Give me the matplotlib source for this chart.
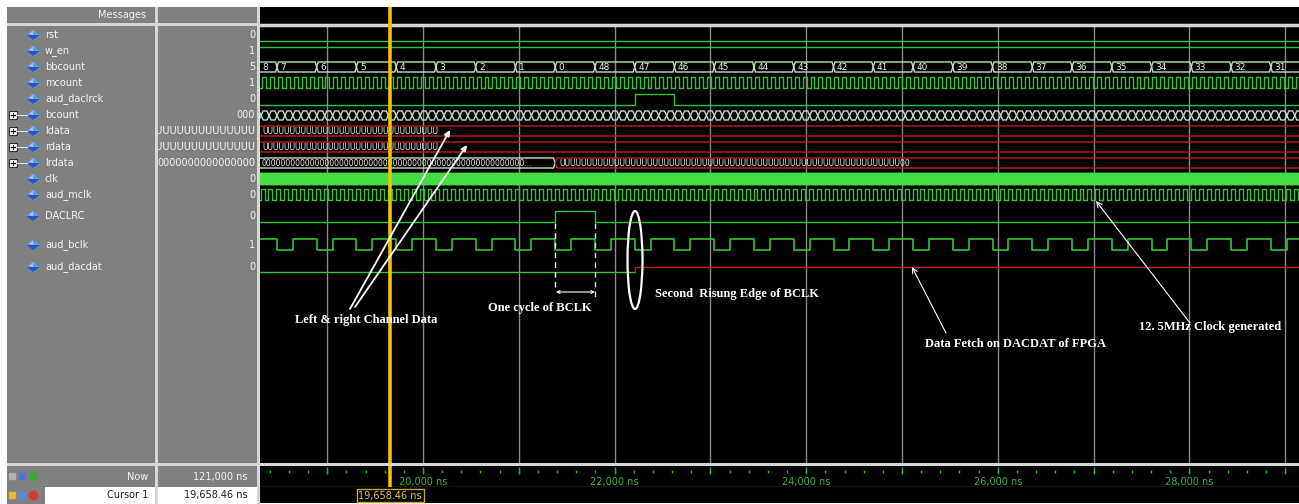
import matplotlib
matplotlib.use('Agg')
import matplotlib.pyplot as plt
from matplotlib.patches import Rectangle, Polygon, Ellipse, FancyArrowPatch
import numpy as np

FIG_W, FIG_H = 1299, 504

# signals listed in the wave window
names = ["rst", "w_en", "bbcount", "mcount", "aud_daclrck", "bcount", "ldata", "rdata",
         "lrdata", "clk", "aud_mclk", "DACLRC", "aud_bclk", "aud_dacdat"]
values = ["0", "1", "5", "1", "0", "000", "UUUUUUUUUUUUUUUU", "UUUUUUUUUUUUUUUU",
          "0000000000000000", "0", "0", "0", "1", "0"]
bus_rows = ["bcount", "ldata", "rdata", "lrdata"]
label_y = [35, 51, 67, 83, 99, 115, 131, 147, 163, 179, 195, 216, 245, 267]

# time window of the wave pane (ns)
t_left, t_right = 18298.5, 29144.0
cursor_ns = 19658.46
now_text = "121,000 ns"

# aud_bclk falling edges (ns), low phase length
bclk_fall = [18476, 18890, 19305, 19720, 20135, 20550, 20965, 21380, 21795, 22210,
             22625, 23040, 23455, 23870, 24285, 24700, 25115, 25530, 25945, 26360,
             26775, 27190, 27605, 28020, 28435, 28850]
bclk_low = 166

bbcount_first = "8"
bbcount_vals = ["7", "6", "5", "4", "3", "2", "1", "0", "48", "47", "46", "45", "44",
                "43", "42", "41", "40", "39", "38", "37", "36", "35", "34", "33", "32", "31"]

daclrc_high = [21380, 21795]
daclrck_high = [22210, 22625]
dacdat_change = 22213

mclk_period = 83.0
mcount_rise0 = 18318.0
aud_mclk_rise0 = 18304.0
clk_period = 20.0
bcount_step0 = 18310.0

ldata_val = "U" * 32
rdata_val = "U" * 32
lrdata_vals = ["0" * 64, "U" * 62 + "00"]
lrdata_change = 21380

GREEN = '#33c433'
BUSLINE = '#c6dcc6'
RED = '#c41a1a'
GRAY = '#808080'
LIGHT = '#d6d6d6'
YELLOW = '#f2c300'

PX_NS = (FIG_W - 260) / (t_right - t_left)
CHAR_PX = 5.0

fig = plt.figure(figsize=(FIG_W / 100, FIG_H / 100), dpi=100)
fig.patch.set_facecolor('white')

# ---------- panels ----------
ax_bg = fig.add_axes([0, 0, 1, 1])
ax_bg.set_xlim(0, FIG_W)
ax_bg.set_ylim(FIG_H, 0)
ax_bg.axis('off')

for x, y, w, h, c in [(7, 7, 148, 456, GRAY), (158, 7, 99, 456, GRAY),
                      (155, 7, 3, 497, LIGHT), (257, 7, 3, 497, LIGHT),
                      (7, 23, 1292, 3, LIGHT), (7, 463, 1292, 3, LIGHT),
                      (7, 466, 148, 21, GRAY), (158, 466, 99, 21, GRAY),
                      (7, 487, 38, 17, GRAY), (45, 487, 110, 17, 'white'),
                      (158, 487, 99, 17, 'white')]:
    ax_bg.add_patch(Rectangle((x, y), w, h, facecolor=c, edgecolor='none'))

ax_bg.text(146, 15, "Messages", ha='right', va='center', color='#f4f4f4', fontsize=7)

for name, y in zip(names, label_y):
    if name in bus_rows:
        ax_bg.add_patch(Rectangle((9, y - 4), 8, 8, facecolor='white', edgecolor='#303030', lw=0.8))
        ax_bg.plot([11, 15], [y, y], color='black', lw=0.8)
        ax_bg.plot([13, 13], [y - 2, y + 2], color='black', lw=0.8)
        ax_bg.plot([17, 27], [y, y], color='#e0e0e0', lw=0.8)
    ax_bg.add_patch(Polygon([(26.5, y), (33, y - 5.5), (39.5, y)], facecolor='#6b9af0', edgecolor='none'))
    ax_bg.add_patch(Polygon([(26.5, y), (33, y + 5), (39.5, y)], facecolor='#2753cf', edgecolor='none'))
    ax_bg.add_patch(Polygon([(29, y - 1), (33, y - 4.5), (33, y)], facecolor='#a9c6fa', edgecolor='none'))
    ax_bg.text(45, y, name, ha='left', va='center', color='#f4f4f4', fontsize=7)

ax_bg.text(148, 477, "Now", ha='right', va='center', color='#f4f4f4', fontsize=7)
ax_bg.text(248, 477, now_text, ha='right', va='center', color='#f4f4f4', fontsize=7)
ax_bg.text(148, 495, "Cursor 1", ha='right', va='center', color='#202020', fontsize=7)
ax_bg.text(248, 495, f"{cursor_ns:,.2f} ns", ha='right', va='center', color='#202020', fontsize=7)
# toolbar icons of the bottom rows
ax_bg.plot([12], [476], marker='s', ms=4, color='#b0b0b0')
ax_bg.plot([22], [476], marker='s', ms=5, color='#4a78d8')
ax_bg.plot([33], [476], marker='o', ms=6, color='#3aa83a')
ax_bg.plot([12], [495], marker='s', ms=5, color='#e8b830')
ax_bg.plot([22], [495], marker='s', ms=4, color='#5a88e0')
ax_bg.plot([33], [495], marker='o', ms=6, color='#d83838')

# value column (clipped text)
ax_val = fig.add_axes([158 / FIG_W, (FIG_H - 463) / FIG_H, 99 / FIG_W, 437 / FIG_H])
ax_val.set_xlim(158, 257)
ax_val.set_ylim(463, 26)
ax_val.set_facecolor(GRAY)
ax_val.axis('off')
for v, y in zip(values, label_y):
    ax_val.text(255, y, v, ha='right', va='center', color='#f2f2f2', fontsize=7, clip_on=True)

# ---------- wave pane ----------
ax = fig.add_axes([260 / FIG_W, (FIG_H - 463) / FIG_H, (FIG_W - 260) / FIG_W, 456 / FIG_H])
ax.set_xlim(t_left, t_right)
ax.set_ylim(463, 7)
ax.set_facecolor('black')
ax.set_xticks([])
ax.set_yticks([])
for s in ax.spines.values():
    s.set_visible(False)

grid_t = np.arange(np.ceil(t_left / 1000) * 1000, t_right, 1000)
ax.vlines(grid_t, 26, 463, color='#8a8a8a', lw=1, zorder=1)
ax.axhline(24.5, color=LIGHT, lw=2.5, zorder=2)


def step_xy(edges, y_start, y_alt):
    xs, ys = [t_left - 50], [y_start]
    cur, nxt = y_start, y_alt
    for e in edges:
        xs += [e, e]
        ys += [cur, nxt]
        cur, nxt = nxt, cur
    xs.append(t_right + 50)
    ys.append(cur)
    return xs, ys


def clock(first_rise, period, y_hi, y_lo, lw=1.0, color=GREEN):
    edges = np.arange(first_rise, t_right + period, period / 2)
    xs, ys = step_xy(edges, y_lo, y_hi)
    ax.plot(xs, ys, color=color, lw=lw, zorder=3)


def bus(bounds, labels, y_top, y_bot, edge, d_ns=18, fs=5.5):
    ym = (y_top + y_bot) / 2
    for a, b, lab in zip(bounds[:-1], bounds[1:], labels):
        pts = [(a, ym), (a + d_ns, y_top), (b - d_ns, y_top), (b, ym),
               (b - d_ns, y_bot), (a + d_ns, y_bot)]
        ax.add_patch(Polygon(pts, closed=True, fill=False, edgecolor=edge, lw=1, zorder=3))
        if lab:
            x0 = max(a + d_ns, t_left) + 2 / PX_NS
            n = int(((b - x0) * PX_NS - 4) / CHAR_PX)
            if len(lab) > n:
                lab = lab[:max(n - 3, 1)] + "..."
            ax.text(x0, ym + 0.5, lab, ha='left', va='center', color='#ececec',
                    fontsize=fs, clip_on=True, zorder=4)


# rst / w_en
ax.plot([t_left, t_right], [41, 41], color=GREEN, lw=1, zorder=3)
ax.plot([t_left, t_right], [47, 47], color=GREEN, lw=1, zorder=3)

# bbcount
bus([t_left - 300] + bclk_fall + [t_right + 300], [bbcount_first] + bbcount_vals,
    62, 72, BUSLINE, d_ns=15, fs=6.5)

# mcount
clock(mcount_rise0, mclk_period, 77, 88)

# aud_daclrck
xs, ys = step_xy(daclrck_high, 105, 94)
ax.plot(xs, ys, color=GREEN, lw=1, zorder=3)

# bcount
bc = np.arange(bcount_step0, t_right + 2 * mclk_period, mclk_period)
bc = np.concatenate([[bcount_step0 - mclk_period], bc])
bus(bc, [""] * (len(bc) - 1), 111, 120, BUSLINE, d_ns=22)

# ldata / rdata / lrdata
bus([t_left - 300, t_right + 300], [ldata_val], 126, 136, RED, fs=5.5)
bus([t_left - 300, t_right + 300], [rdata_val], 142, 152, RED, fs=5.5)
bus([t_left - 300, lrdata_change], [lrdata_vals[0]], 158, 168, BUSLINE, fs=5.5)
bus([lrdata_change, t_right + 300], [lrdata_vals[1]], 158, 168, RED, fs=5.5)

# clk and aud_mclk
clock(18301.0, clk_period, 173, 185, lw=0.7, color='#46dc46')
clock(aud_mclk_rise0, mclk_period, 189, 200)

# DACLRC
xs, ys = step_xy(daclrc_high, 222, 211)
ax.plot(xs, ys, color=GREEN, lw=1, zorder=3)

# aud_bclk
bclk_edges = sorted(bclk_fall + [f + bclk_low for f in bclk_fall])
xs, ys = step_xy(bclk_edges, 239, 250)
ax.plot(xs, ys, color=GREEN, lw=1.2, zorder=3)

# aud_dacdat
ax.plot([t_left, dacdat_change], [272, 272], color=GREEN, lw=1, zorder=3)
ax.plot([dacdat_change, dacdat_change, t_right], [272, 266.5, 266.5], color=RED, lw=1, zorder=3)

ax.axvline(cursor_ns, color=YELLOW, lw=2.6, zorder=10)

# ---------- ruler (Now row) ----------
ax_r = fig.add_axes([260 / FIG_W, (FIG_H - 487) / FIG_H, (FIG_W - 260) / FIG_W, 21 / FIG_H])
ax_r.set_xlim(t_left, t_right)
ax_r.set_ylim(487, 466)
ax_r.set_facecolor('black')
ax_r.set_xticks([])
ax_r.set_yticks([])
for s in ax_r.spines.values():
    s.set_visible(False)
minor_t = np.arange(np.ceil(t_left / 200) * 200, t_right, 200)
major_t = np.arange(np.ceil(t_left / 1000) * 1000, t_right, 1000)
ax_r.vlines(minor_t, 469.5, 473, color='#3aa83a', lw=1)
ax_r.vlines(major_t, 467, 474, color='#3aa83a', lw=1)
for t in np.arange(np.ceil(t_left / 2000) * 2000, t_right - 300, 2000):
    ax_r.text(t, 481.5, f"{int(t):,} ns", ha='center', va='center', color='#3cb43c', fontsize=7)
ax_r.axhline(486.5, color='#606060', lw=1)
ax_r.axvline(cursor_ns, color=YELLOW, lw=2.6)

# ---------- cursor row ----------
ax_c = fig.add_axes([260 / FIG_W, (FIG_H - 503) / FIG_H, (FIG_W - 260) / FIG_W, 16 / FIG_H])
ax_c.set_xlim(t_left, t_right)
ax_c.set_ylim(503, 487)
ax_c.set_facecolor('black')
ax_c.set_xticks([])
ax_c.set_yticks([])
for s in ax_c.spines.values():
    s.set_visible(False)
ax_c.text(cursor_ns, 495.5, f"{cursor_ns:,.2f} ns", ha='center', va='center', color='#e6c24a',
          fontsize=7, bbox=dict(boxstyle='square,pad=0.2', fc='black', ec='#c9a32c', lw=1))

# ---------- hand-drawn annotations (pixel coords) ----------
ov = fig.add_axes([0, 0, 1, 1])
ov.set_xlim(0, FIG_W)
ov.set_ylim(FIG_H, 0)
ov.axis('off')
ov.patch.set_alpha(0)

serif = dict(family=['Liberation Serif', 'DejaVu Serif'], weight='bold', color='white', fontsize=9)


def arrow(p0, p1, lw=1.3, style='-|>', ms=8):
    ov.add_patch(FancyArrowPatch(p0, p1, arrowstyle=style, mutation_scale=ms,
                                 color='white', lw=lw, shrinkA=0, shrinkB=0))


arrow((350, 309), (450, 130))
arrow((355, 307), (467, 145))
ov.text(295, 320, "Left & right Channel Data", ha='left', va='center', **serif)

ov.plot([555, 555], [223, 288], color='white', lw=1, ls=(0, (4, 3)))
ov.plot([595, 595], [223, 297], color='#d8d8d8', lw=1, ls=(0, (4, 3)))
arrow((556, 292), (595, 292), lw=0.8, style='<->', ms=5)
ov.text(488, 308.5, "One cycle of BCLK", ha='left', va='center', **serif)

ov.add_patch(Ellipse((635, 260), 15, 98, fill=False, edgecolor='white', lw=1.6))
ov.text(655, 294, "Second  Risung Edge of BCLK", ha='left', va='center', **serif)

arrow((946, 333), (912, 267), lw=0.8, style='->', ms=9)
ov.text(925, 344, "Data Fetch on DACDAT of FPGA", ha='left', va='center', **serif)

arrow((1190, 323), (1096, 201), lw=0.8, style='->', ms=9)
ov.text(1139, 327, "12. 5MHz Clock generated", ha='left', va='center', **serif)

fig.savefig('out.png', dpi=100, facecolor=fig.get_facecolor())
